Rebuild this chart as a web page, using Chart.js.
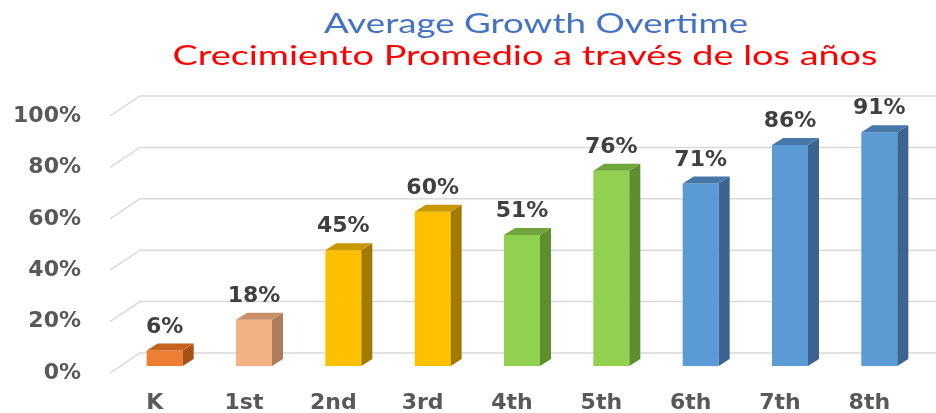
<!DOCTYPE html>
<html lang="es">
<head>
    <meta charset="UTF-8">
    <title>Average Growth Overtime</title>
    <script src="https://cdn.jsdelivr.net/npm/chart.js"></script>
    <style>
        html, body { margin: 0; padding: 0; background: #fff; }
        #wrap { width: 936px; height: 413px; }
    </style>
</head>
<body>
    <div id="wrap"><canvas id="growthChart"></canvas></div>

    <script>
        // chart data
        const categories = ['K', '1st', '2nd', '3rd', '4th', '5th', '6th', '7th', '8th'];
        const growth = [6, 18, 45, 60, 51, 76, 71, 86, 91];
        const yTicks = [0, 20, 40, 60, 80, 100];

        const titleEn = 'Average Growth Overtime';
        const titleEs = 'Crecimiento Promedio a través de los años';

        // bar faces: front / top / side
        const frontColors = ['#ED7D31', '#F4B183', '#FFC000', '#FFC000', '#92D050', '#92D050', '#5B9BD5', '#5B9BD5', '#5B9BD5'];
        const topColors   = ['#C4621E', '#C8906B', '#C99700', '#C99700', '#6FA53A', '#6FA53A', '#4677A8', '#4677A8', '#4677A8'];
        const sideColors  = ['#A85216', '#AD7C5A', '#A37A00', '#A37A00', '#5E8F2E', '#5E8F2E', '#3B6590', '#3B6590', '#3B6590'];

        const labelFont = 'bold 22px "DejaVu Sans", Verdana, sans-serif';

        // draws a title line centred on cx and stretched to the wanted width
        function drawTitle(ctx, text, cx, baseline, width, color) {
            ctx.save();
            ctx.font = '26px Lato, "Open Sans", sans-serif';
            ctx.fillStyle = color;
            ctx.textAlign = 'center';
            ctx.textBaseline = 'alphabetic';
            const sx = width / ctx.measureText(text).width;
            ctx.translate(cx, baseline);
            ctx.scale(sx, 1);
            ctx.fillText(text, 0, 0);
            ctx.restore();
        }

        // fake 3D: back wall, floor edges, bar sides & tops, value labels, titles
        const threeD = {
            id: 'threeD',
            beforeDatasetsDraw(chart) {
                const { ctx, chartArea, scales: { y } } = chart;
                ctx.save();
                ctx.strokeStyle = '#d9d9d9';
                ctx.lineWidth = 1.5;
                yTicks.forEach(v => {
                    const py = y.getPixelForValue(v);
                    ctx.beginPath();
                    ctx.moveTo(chartArea.left - 10, py + 7);
                    ctx.lineTo(chartArea.left + 20, py - 13);
                    ctx.lineTo(chart.width, py - 13);
                    ctx.stroke();
                });
                ctx.restore();
            },
            afterDatasetsDraw(chart) {
                const { ctx } = chart;
                const meta = chart.getDatasetMeta(0);
                ctx.save();
                meta.data.forEach((bar, i) => {
                    const { x, y, base, width } = bar.getProps(['x', 'y', 'base', 'width'], true);
                    const l = x - width / 2, r = x + width / 2;
                    const dx = 11, dy = 7;

                    ctx.fillStyle = sideColors[i];
                    ctx.beginPath();
                    ctx.moveTo(r, y);
                    ctx.lineTo(r + dx, y - dy);
                    ctx.lineTo(r + dx, base - dy);
                    ctx.lineTo(r, base);
                    ctx.closePath();
                    ctx.fill();

                    ctx.fillStyle = topColors[i];
                    ctx.beginPath();
                    ctx.moveTo(l, y);
                    ctx.lineTo(l + dx, y - dy);
                    ctx.lineTo(r + dx, y - dy);
                    ctx.lineTo(r, y);
                    ctx.closePath();
                    ctx.fill();

                    ctx.fillStyle = '#404040';
                    ctx.font = labelFont;
                    ctx.textAlign = 'center';
                    ctx.textBaseline = 'alphabetic';
                    ctx.fillText(growth[i] + '%', x, y - 18);
                });
                ctx.restore();
            },
            afterDraw(chart) {
                drawTitle(chart.ctx, titleEn, 536, 33, 424, '#4472C4');
                drawTitle(chart.ctx, titleEs, 525, 65, 705, '#FF0000');
            }
        };

        const ctx = document.getElementById('growthChart').getContext('2d');
        new Chart(ctx, {
            type: 'bar',
            data: {
                labels: categories,
                datasets: [{
                    data: growth,
                    backgroundColor: frontColors,
                    borderWidth: 0,
                    categoryPercentage: 1,
                    barPercentage: 0.403
                }]
            },
            options: {
                responsive: true,
                maintainAspectRatio: false,
                animation: false,
                layout: { padding: { top: 109, right: 12, left: 0, bottom: 0 } },
                plugins: {
                    legend: { display: false },
                    tooltip: { enabled: false }
                },
                scales: {
                    x: {
                        afterFit: s => { s.height = 47; },
                        grid: { display: false, drawTicks: false },
                        border: { display: false },
                        ticks: {
                            color: '#595959',
                            font: { family: '"DejaVu Sans", Verdana, sans-serif', size: 22, weight: 'bold' },
                            padding: 24,
                            labelOffset: -10
                        }
                    },
                    y: {
                        min: 0,
                        max: 100,
                        // tick padding must not push the plot area up
                        afterFit: s => { s.width = 120; s.paddingTop = 0; s.paddingBottom = 0; },
                        grid: { display: false, drawTicks: false },
                        border: { display: false },
                        ticks: {
                            stepSize: 20,
                            color: '#595959',
                            font: { family: '"DejaVu Sans", Verdana, sans-serif', size: 22, weight: 'bold' },
                            padding: 39,
                            labelOffset: 7,
                            callback: v => v + '%'
                        }
                    }
                }
            },
            plugins: [threeD]
        });
    </script>
</body>
</html>
